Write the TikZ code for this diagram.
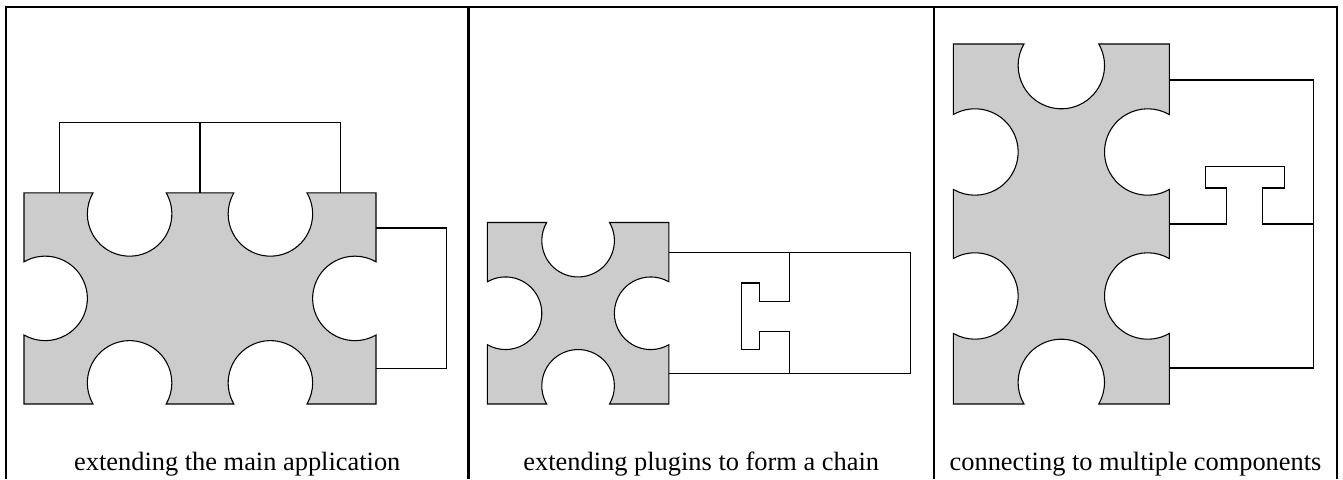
\documentclass[tikz,border=0pt]{standalone}
\usepackage{fontspec}
\setmainfont{Liberation Serif}
\definecolor{piecegray}{HTML}{CCCCCC}

% notch geometry, in units of the piece grid
\def\na{0.5196}% half width of a notch opening
\def\nr{0.6}% notch radius

% \puzzlepiece{W}{H}{bottom xs}{right ys}{top xs (descending)}{left ys (descending)}
\newcommand\puzzlepiece[6]{%
  \filldraw[piece] (0,0)
    \foreach \c in {#3} { -- ({\c-\na},0) arc[start angle=210, end angle=-30, radius=\nr] }
    -- (#1,0)
    \foreach \c in {#4} { -- (#1,{\c-\na}) arc[start angle=-60, end angle=-300, radius=\nr] }
    -- (#1,#2)
    \foreach \c in {#5} { -- ({\c+\na},#2) arc[start angle=30, end angle=-210, radius=\nr] }
    -- (0,#2)
    \foreach \c in {#6} { -- (0,{\c+\na}) arc[start angle=120, end angle=-120, radius=\nr] }
    -- cycle;
}

\tikzset{
  piece/.style={fill=piecegray, draw=black, line width=0.8pt, line join=miter},
  slot/.style={draw=black, line width=0.8pt, line join=miter},
  frame/.style={draw=black, line width=1.9pt},
  caption/.style={anchor=base, inner sep=0pt, font=\fontsize{19.8pt}{24pt}\selectfont}
}

\begin{document}
\begin{tikzpicture}[x=0.75pt, y=0.75pt]
  \useasboundingbox (0,0) rectangle (1343,479);

  % table frame: top rule and column rules, open at the bottom
  \draw[frame, line join=miter] (6,0) -- (6,472) -- (1337,472) -- (1337,0);
  \draw[frame] (468.5,472) -- (468.5,0);
  \draw[frame] (934,472) -- (934,0);

  % column 1: main application with three plugins
  \begin{scope}[shift={(18pt,56.25pt)}, x=52.8pt, y=52.8pt]
    \puzzlepiece{5}{3}{1.5,3.5}{1.5}{3.5,1.5}{1.5}
    \draw[slot] (0.5,3) -- (0.5,4) -- (4.5,4) -- (4.5,3);
    \draw[slot] (2.5,4) -- (2.5,3);
    \draw[slot] (5,2.5) -- (6,2.5) -- (6,0.5) -- (5,0.5);
  \end{scope}

  % column 2: a chain of plugins
  \begin{scope}[shift={(365.5pt,56.25pt)}, x=45.375pt, y=45.375pt]
    \puzzlepiece{3}{3}{1.5}{1.5}{1.5}{1.5}
    \draw[slot] (3,0.5) -- (7,0.5) -- (7,2.5) -- (3,2.5);
    \draw[slot] (5,2.5) -- (5,1.7) -- (4.5,1.7) -- (4.5,2.0) -- (4.2,2.0)
                -- (4.2,0.9) -- (4.5,0.9) -- (4.5,1.2) -- (5,1.2) -- (5,0.5);
  \end{scope}

  % column 3: one plugin spanning several components
  \begin{scope}[shift={(715pt,56.25pt)}, x=54pt, y=54pt]
    \puzzlepiece{3}{5}{1.5}{1.5,3.5}{1.5}{3.5,1.5}
    \draw[slot] (3,4.5) -- (5,4.5) -- (5,0.5) -- (3,0.5);
    \draw[slot] (3,2.5) -- (3.8,2.5) -- (3.8,3.0) -- (3.5,3.0) -- (3.5,3.3)
                -- (4.6,3.3) -- (4.6,3.0) -- (4.3,3.0) -- (4.3,2.5) -- (5,2.5);
  \end{scope}

  % captions
  \node[caption] (cap1) at (237.25,9) {extending the main application};
  \node[caption] (cap2) at (701.25,9) {extending plugins to form a chain};
  \node[caption] (cap3) at (1135.5,9) {connecting to multiple components};
\end{tikzpicture}
\end{document}
